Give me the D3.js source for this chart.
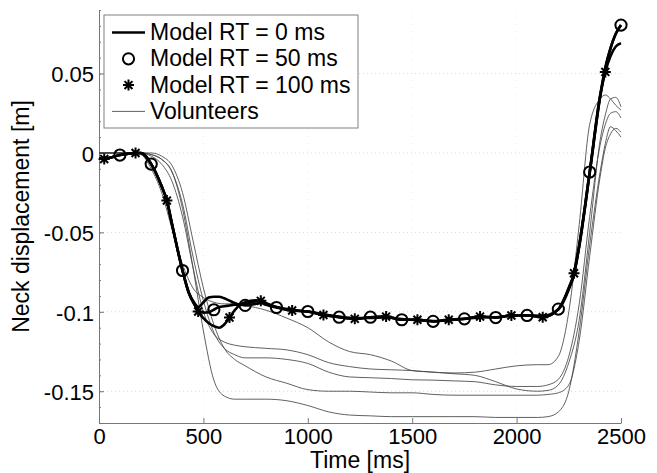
<!doctype html>
<html>
<head>
<meta charset="utf-8">
<title>Neck displacement</title>
<script src="https://cdn.jsdelivr.net/npm/d3@7/dist/d3.min.js"></script>
<style>
  body { margin: 0; background: #fff; }
  svg { font-family: "Liberation Sans", Arial, sans-serif; }
  .grid line { stroke: #d9d9d9; stroke-dasharray: 1,3; }
  .axis .domain, .axis line { stroke: #777; }
  .axis text { fill: #000; font-size: 22px; }
</style>
</head>
<body>
<div id="chart"></div>
<script>
// tick values
var xTicks = [0, 500, 1000, 1500, 2000, 2500];
var yTicks = [-0.15, -0.1, -0.05, 0, 0.05];

// model time base [ms]
var modelT = [0, 25, 50, 100, 150, 175, 200, 250, 300, 325, 350, 400, 430, 460, 475,
  500, 525, 550, 575, 600, 625, 650, 675, 700, 750, 775, 800, 850, 925, 1000,
  1075, 1150, 1225, 1300, 1375, 1450, 1525, 1600, 1675, 1750, 1825, 1900, 1975, 2050, 2125,
  2200, 2250, 2275, 2300, 2350, 2400, 2425, 2450, 2475, 2500];

// model neck displacement [m]
var rt0 = [-0.0035, -0.0038, -0.003, -0.0013, -0.0003, 0, 0, -0.007, -0.021, -0.030, -0.045, -0.074, -0.088, -0.095, -0.097,
  -0.094, -0.091, -0.0905, -0.0905, -0.0915, -0.093, -0.0945, -0.0955, -0.095, -0.0935, -0.0935, -0.095, -0.097, -0.0988, -0.0998,
  -0.1015, -0.103, -0.104, -0.1038, -0.1035, -0.1045, -0.1052, -0.1058, -0.1052, -0.1045, -0.1035, -0.1034, -0.1025, -0.1022, -0.1025,
  -0.0985, -0.086, -0.0765, -0.059, -0.013, 0.035, 0.053, 0.066, 0.075, 0.0805];
var rt50 = [-0.0035, -0.0038, -0.003, -0.0013, -0.0003, 0, 0, -0.007, -0.021, -0.030, -0.045, -0.074, -0.088, -0.096, -0.0995,
  -0.1005, -0.1003, -0.0987, -0.097, -0.0965, -0.096, -0.0955, -0.0955, -0.096, -0.095, -0.0945, -0.0955, -0.0973, -0.0992, -0.0998,
  -0.102, -0.1034, -0.1044, -0.1034, -0.103, -0.105, -0.105, -0.106, -0.105, -0.1044, -0.103, -0.1036, -0.1023, -0.1023, -0.1034,
  -0.0983, -0.085, -0.0757, -0.058, -0.012, 0.036, 0.054, 0.066, 0.075, 0.0805];
var rt100 = [-0.0035, -0.0038, -0.003, -0.0013, -0.0003, 0, 0, -0.007, -0.021, -0.030, -0.045, -0.074, -0.088, -0.096, -0.0998,
  -0.104, -0.107, -0.109, -0.110, -0.108, -0.1036, -0.099, -0.0955, -0.094, -0.0928, -0.0931, -0.0945, -0.097, -0.0992, -0.0998,
  -0.102, -0.1034, -0.1044, -0.1034, -0.103, -0.105, -0.105, -0.106, -0.105, -0.1044, -0.103, -0.1036, -0.1023, -0.1023, -0.1034,
  -0.0983, -0.085, -0.0757, -0.058, -0.012, 0.036, 0.051, 0.061, 0.067, 0.069];

// marker times
var circleT = [100, 250, 400, 550, 700, 850, 1000, 1150, 1300, 1450, 1600, 1750, 1900, 2050, 2200, 2350, 2500];
var starT = [25, 175, 325, 475, 625, 775, 925, 1075, 1225, 1375, 1525, 1675, 1825, 1975, 2125, 2275, 2425];

// volunteers
var volT = [0, 150, 200, 250, 300, 350, 400, 450, 500, 550, 600, 650, 700, 800, 900,
  1000, 1100, 1200, 1300, 1400, 1500, 1600, 1700, 1800, 1900, 2000, 2100, 2150, 2200, 2250,
  2300, 2350, 2400, 2425, 2450, 2475, 2500];
var volA = [0, 0, -0.001, -0.010, -0.025, -0.048, -0.070, -0.085, -0.091, -0.094, -0.095, -0.095, -0.096, -0.099, -0.104,
  -0.110, -0.119, -0.125, -0.127, -0.131, -0.137, -0.138, -0.139, -0.140, -0.144, -0.1486, -0.150, -0.1495, -0.146, -0.132,
  -0.105, -0.050, 0.008, 0.024, 0.034, 0.035, 0.029];
var volB = [0, 0, 0, -0.002, -0.007, -0.018, -0.040, -0.072, -0.100, -0.114, -0.119, -0.121, -0.122, -0.123, -0.124,
  -0.127, -0.132, -0.1345, -0.136, -0.1365, -0.137, -0.138, -0.1385, -0.138, -0.136, -0.134, -0.1333, -0.1333, -0.128, -0.100,
  -0.045, 0.018, 0.034, 0.0365, 0.034, 0.030, 0.027];
var volC = [0, 0, 0, -0.001, -0.004, -0.012, -0.032, -0.065, -0.093, -0.113, -0.123, -0.127, -0.129, -0.129, -0.130,
  -0.1325, -0.138, -0.141, -0.1415, -0.142, -0.1428, -0.143, -0.1435, -0.144, -0.146, -0.147, -0.147, -0.146, -0.1425, -0.128,
  -0.095, -0.040, 0.005, 0.018, 0.025, 0.026, 0.022];
var volD = [0, 0, 0, 0, -0.002, -0.008, -0.025, -0.055, -0.085, -0.108, -0.123, -0.130, -0.134, -0.141, -0.145,
  -0.149, -0.150, -0.150, -0.1505, -0.151, -0.151, -0.152, -0.1525, -0.1525, -0.1525, -0.1525, -0.1525, -0.152, -0.151, -0.146,
  -0.118, -0.065, -0.015, 0.003, 0.012, 0.0155, 0.013];
var volE = [0, 0, 0, -0.001, -0.004, -0.012, -0.035, -0.072, -0.112, -0.143, -0.153, -0.155, -0.155, -0.155, -0.156,
  -0.159, -0.163, -0.165, -0.1655, -0.166, -0.166, -0.166, -0.166, -0.166, -0.1665, -0.1665, -0.1665, -0.166, -0.163, -0.150,
  -0.112, -0.058, -0.012, 0.006, 0.0165, 0.014, 0.010];

var legendLabels = ["Model RT = 0 ms", "Model RT = 50 ms", "Model RT = 100 ms", "Volunteers"];

// set the dimensions and margins of the graph
var margin = {top: 10, right: 36, bottom: 50, left: 99},
    width = 657 - margin.left - margin.right,
    height = 473 - margin.top - margin.bottom;

var svg = d3.select("#chart").append("svg")
    .attr("width", 657)
    .attr("height", 473)
  .append("g")
    .attr("transform", "translate(" + margin.left + "," + margin.top + ")");

// set the ranges
var x = d3.scaleLinear().domain([0, 2500]).range([0, width]);
var y = d3.scaleLinear().domain([-0.17, 0.09]).range([height, 0]);

// faint grid
svg.append("g").attr("class", "grid")
  .selectAll("line").data(yTicks).enter().append("line")
    .attr("x1", 0).attr("x2", width)
    .attr("y1", function(d) { return y(d); })
    .attr("y2", function(d) { return y(d); });
svg.append("g").attr("class", "grid")
  .selectAll("line").data(xTicks.slice(1, -1)).enter().append("line")
    .attr("y1", 0).attr("y2", height)
    .attr("x1", function(d) { return x(d); })
    .attr("x2", function(d) { return x(d); })
    .style("stroke", "#ececec")
    .style("stroke-dasharray", "1,6");

// axes
svg.append("g")
    .attr("class", "axis")
    .attr("transform", "translate(0," + height + ")")
    .call(d3.axisBottom(x).tickValues(xTicks).tickSizeInner(-5).tickSizeOuter(0)
      .tickPadding(5).tickFormat(d3.format("d")));

svg.append("g")
    .attr("class", "axis")
    .call(d3.axisLeft(y).tickValues(d3.range(-17, 10).map(function(i) { return i / 100; }))
      .tickSize(-2).tickFormat(""));

var yAx = svg.append("g")
    .attr("class", "axis")
    .call(d3.axisLeft(y).tickValues(yTicks).tickSizeInner(-5).tickSizeOuter(0)
      .tickPadding(5).tickFormat(function(d) { return d === 0 ? "0" : String(d); }));
yAx.selectAll("text").attr("dy", "0.38em");

// lines
var line = function(ts) {
  return d3.line()
    .x(function(d, i) { return x(ts[i]); })
    .y(function(d) { return y(d); })
    .curve(d3.curveMonotoneX);
};

[volA, volB, volC, volD, volE].forEach(function(v) {
  svg.append("path")
    .datum(v)
    .attr("fill", "none")
    .attr("stroke", "#444")
    .attr("stroke-width", 0.85)
    .attr("d", line(volT));
});

[rt0, rt50, rt100].forEach(function(v) {
  svg.append("path")
    .datum(v)
    .attr("fill", "none")
    .attr("stroke", "#000")
    .attr("stroke-width", 2.6)
    .attr("d", line(modelT));
});

// markers
var starPath = function(r) {
  var a = r * 0.72;
  return "M" + (-r) + ",0L" + r + ",0M0," + (-r) + "L0," + r +
    "M" + (-a) + "," + (-a) + "L" + a + "," + a + "M" + (-a) + "," + a + "L" + a + "," + (-a);
};

svg.selectAll(".circ")
    .data(circleT)
  .enter().append("circle")
    .attr("class", "circ")
    .attr("cx", function(t) { return x(t); })
    .attr("cy", function(t) { return y(rt50[modelT.indexOf(t)]); })
    .attr("r", 5.6)
    .attr("fill", "none")
    .attr("stroke", "#000")
    .attr("stroke-width", 2);

svg.selectAll(".star")
    .data(starT)
  .enter().append("path")
    .attr("class", "star")
    .attr("transform", function(t) { return "translate(" + x(t) + "," + y(rt100[modelT.indexOf(t)]) + ")"; })
    .attr("d", starPath(5.5))
    .attr("fill", "none")
    .attr("stroke", "#000")
    .attr("stroke-width", 2);

// legend
var lg = svg.append("g").attr("transform", "translate(5,5)");
lg.append("rect")
    .attr("width", 254).attr("height", 113)
    .attr("fill", "#fff").attr("stroke", "#808080").attr("stroke-width", 1);

legendLabels.forEach(function(lab, i) {
  var cy = 17.5 + i * 26.3;
  if (i === 0 || i === 3) {
    lg.append("line")
      .attr("x1", 8).attr("x2", 41).attr("y1", cy).attr("y2", cy)
      .attr("stroke", i === 0 ? "#000" : "#444")
      .attr("stroke-width", i === 0 ? 2.6 : 0.85);
  } else if (i === 1) {
    lg.append("circle").attr("cx", 24.5).attr("cy", cy).attr("r", 5.6)
      .attr("fill", "none").attr("stroke", "#000").attr("stroke-width", 2);
  } else {
    lg.append("path").attr("transform", "translate(24.5," + cy + ")")
      .attr("d", starPath(5.5)).attr("fill", "none").attr("stroke", "#000").attr("stroke-width", 2);
  }
  lg.append("text")
    .attr("x", 46).attr("y", cy + 7.5)
    .style("font-size", "23px")
    .text(lab);
});

// axis labels
svg.append("text")
    .attr("x", width / 2)
    .attr("y", height + 45)
    .attr("text-anchor", "middle")
    .style("font-size", "23px")
    .text("Time [ms]");

svg.append("text")
    .attr("transform", "rotate(-90)")
    .attr("x", -height / 2)
    .attr("y", -70)
    .attr("text-anchor", "middle")
    .style("font-size", "23px")
    .text("Neck displacement [m]");
</script>
</body>
</html>
